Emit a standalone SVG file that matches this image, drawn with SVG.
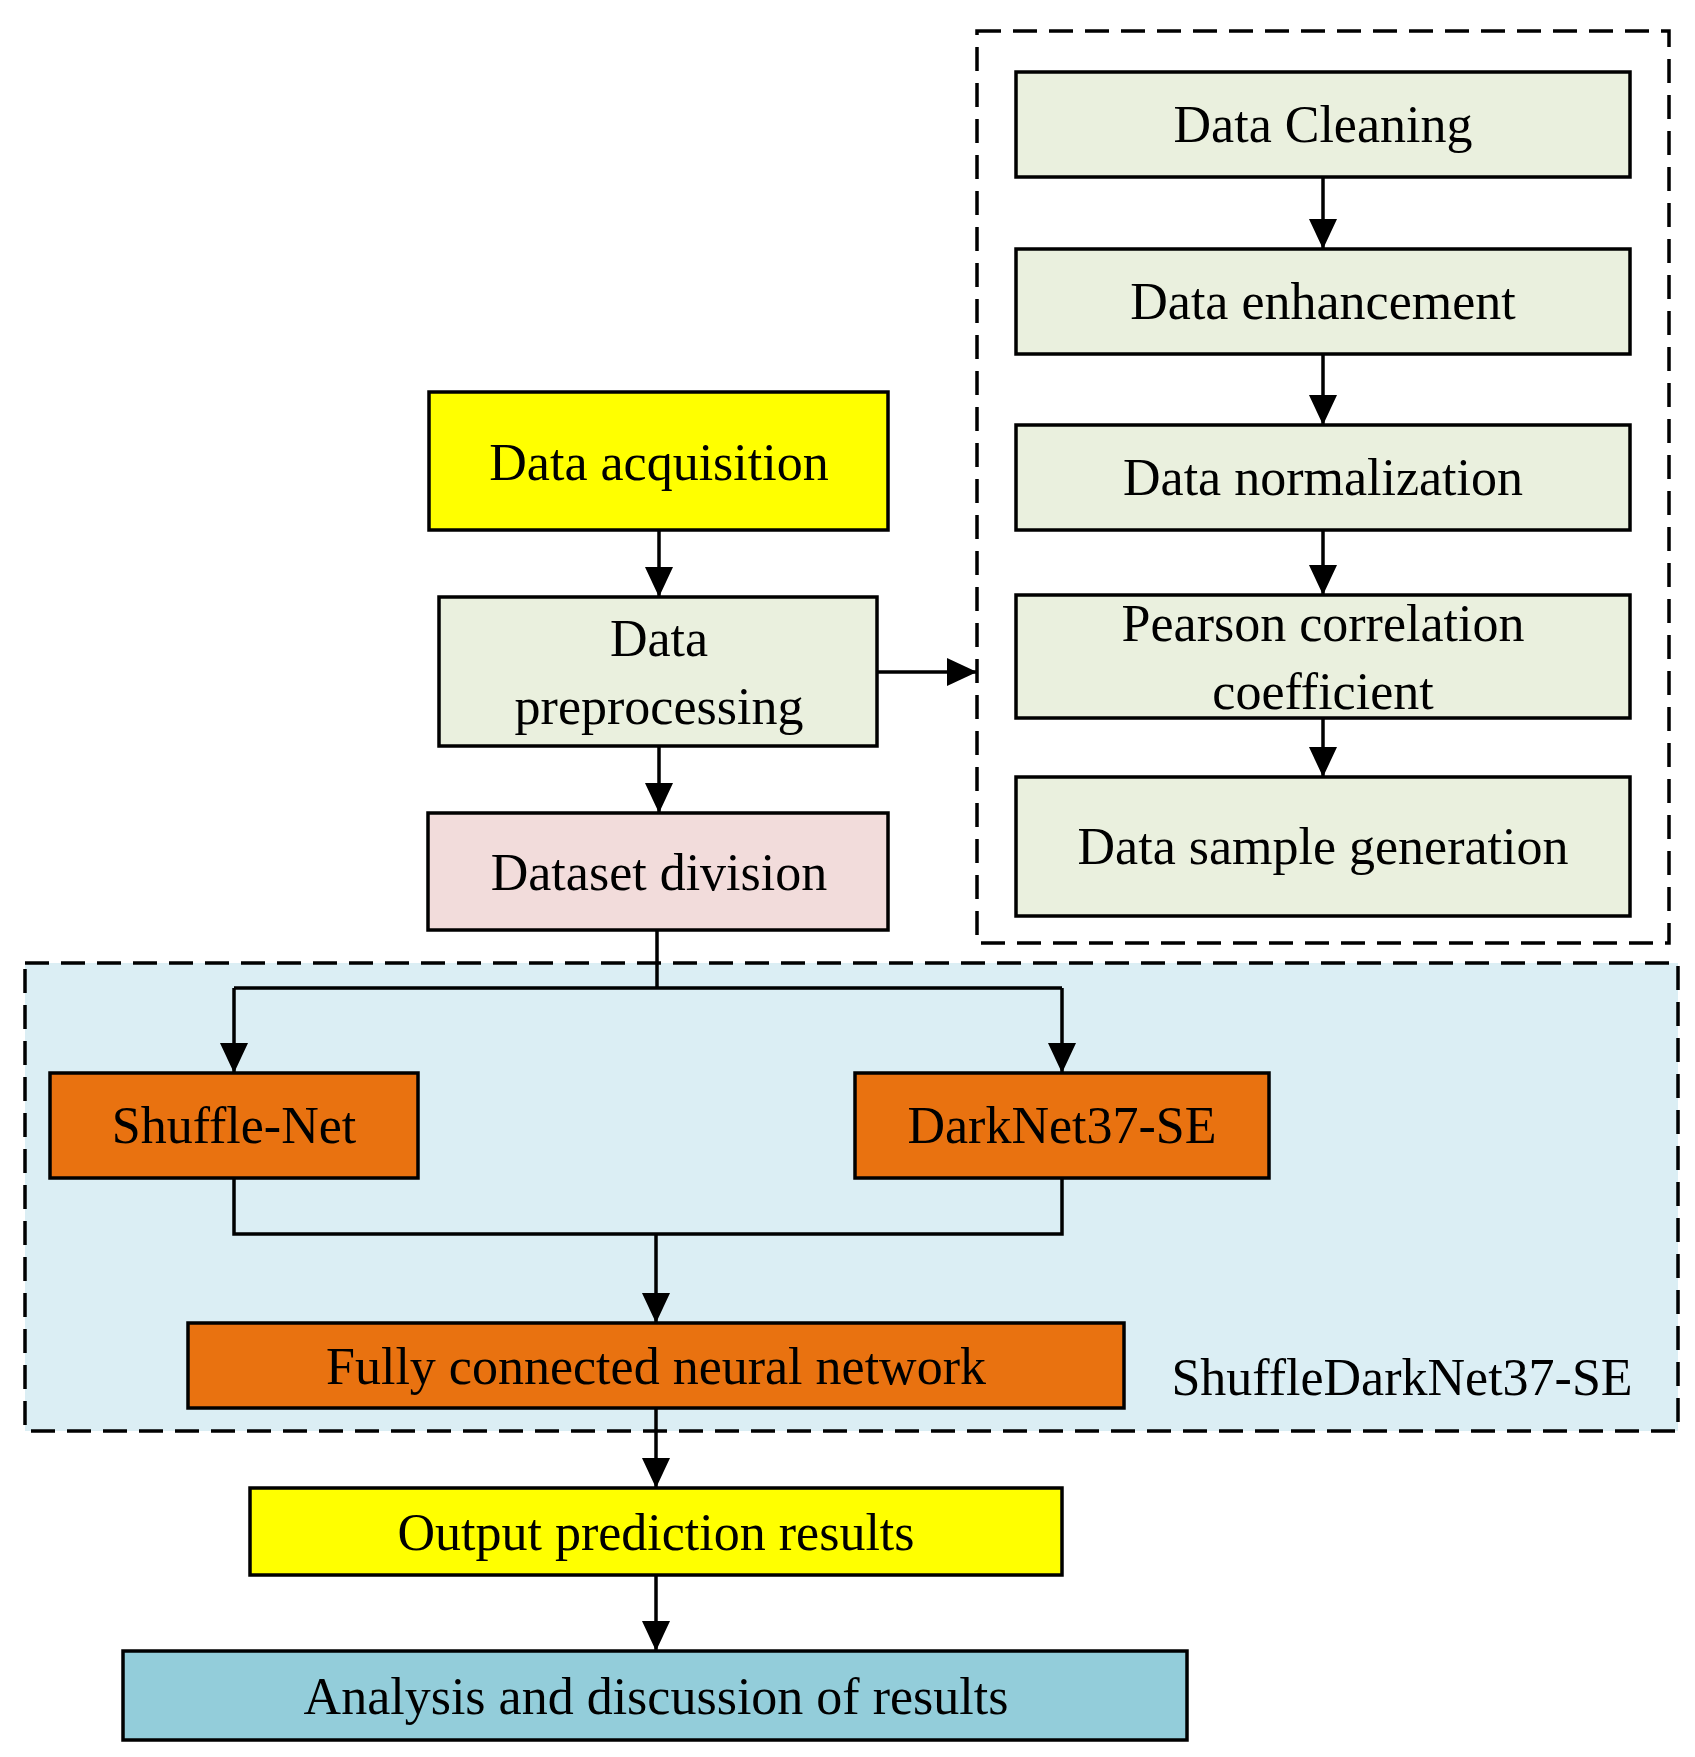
<svg xmlns="http://www.w3.org/2000/svg" width="1695" height="1757" viewBox="0 0 1695 1757">
<style>
.b{stroke:#000;stroke-width:3.5}
.t{font-family:"Liberation Serif",serif;font-size:52px;text-anchor:middle;fill:#000}
.c{fill:none;stroke:#000;stroke-width:3.5}
.d{fill:none;stroke:#000;stroke-width:3.5;stroke-dasharray:24,12}
.g{fill:#EAF0DE}
</style>
<defs><marker id="a" markerWidth="30" markerHeight="28" refX="30" refY="14" orient="auto" markerUnits="userSpaceOnUse"><path d="M0,0L30,14L0,28z" fill="#000"/></marker></defs>
<rect x="25" y="963" width="1653" height="468" fill="#DBEEF4"/>
<rect class="d" x="25" y="963" width="1653" height="468"/>
<rect class="d" x="977" y="31" width="692" height="912"/>
<g id="n1"><rect class="b g" x="1016" y="72" width="614" height="105"/><text class="t" x="1323" y="142">Data Cleaning</text></g>
<g id="n2"><rect class="b g" x="1016" y="249" width="614" height="105"/><text class="t" x="1323" y="319">Data enhancement</text></g>
<g id="n3"><rect class="b g" x="1016" y="425" width="614" height="105"/><text class="t" x="1323" y="495">Data normalization</text></g>
<g id="n4"><rect class="b g" x="1016" y="595" width="614" height="123"/><text class="t" x="1323" y="641">Pearson correlation</text><text class="t" x="1323" y="709">coefficient</text></g>
<g id="n5"><rect class="b g" x="1016" y="777" width="614" height="139"/><text class="t" x="1323" y="864">Data sample generation</text></g>
<g id="acq"><rect class="b" fill="#FFFF00" x="429" y="392" width="459" height="138"/><text class="t" x="659" y="480">Data acquisition</text></g>
<g id="pre"><rect class="b g" x="439" y="597" width="438" height="149"/><text class="t" x="659" y="656">Data</text><text class="t" x="659" y="724">preprocessing</text></g>
<g id="div"><rect class="b" fill="#F2DCDB" x="428" y="813" width="460" height="117"/><text class="t" x="659" y="890">Dataset division</text></g>
<g id="sn"><rect class="b" fill="#E97210" x="50" y="1073" width="368" height="105"/><text class="t" x="234" y="1143">Shuffle-Net</text></g>
<g id="dn"><rect class="b" fill="#E97210" x="855" y="1073" width="414" height="105"/><text class="t" x="1062" y="1143">DarkNet37-SE</text></g>
<g id="fc"><rect class="b" fill="#E97210" x="188" y="1323" width="936" height="85"/><text class="t" x="656" y="1384">Fully connected neural network</text></g>
<text class="t" x="1402" y="1395">ShuffleDarkNet37-SE</text>
<g id="out"><rect class="b" fill="#FFFF00" x="250" y="1488" width="812" height="87"/><text class="t" x="656" y="1550">Output prediction results</text></g>
<g id="an"><rect class="b" fill="#93CDDA" x="123" y="1651" width="1064" height="89"/><text class="t" x="656" y="1714">Analysis and discussion of results</text></g>
<g id="edges">
<path class="c" marker-end="url(#a)" d="M1323,177V249"/>
<path class="c" marker-end="url(#a)" d="M1323,354V425"/>
<path class="c" marker-end="url(#a)" d="M1323,530V595"/>
<path class="c" marker-end="url(#a)" d="M1323,718V777"/>
<path class="c" marker-end="url(#a)" d="M659,530V597"/>
<path class="c" marker-end="url(#a)" d="M659,746V813"/>
<path class="c" marker-end="url(#a)" d="M877,672H977"/>
<path class="c" d="M657,930V988M234,988H1062"/>
<path class="c" marker-end="url(#a)" d="M234,988V1073"/>
<path class="c" marker-end="url(#a)" d="M1062,988V1073"/>
<path class="c" d="M234,1178V1234H1062V1178"/>
<path class="c" marker-end="url(#a)" d="M656,1234V1323"/>
<path class="c" marker-end="url(#a)" d="M656,1408V1488"/>
<path class="c" marker-end="url(#a)" d="M656,1575V1651"/>
</g>
</svg>
